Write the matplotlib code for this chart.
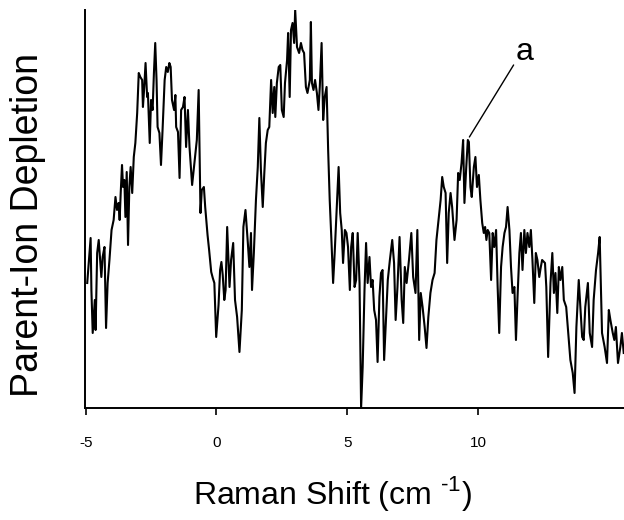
import matplotlib
matplotlib.use("Agg")

import matplotlib.pyplot as plt


###############################################################################
# Data (Raman shift in cm^-1, parent-ion depletion in arbitrary units)
###############################################################################

shift = [
    -4.94, -4.81, -4.78, -4.73, -4.65, -4.62, -4.56, -4.50, -4.43, -4.40,
    -4.35, -4.28, -4.22, -4.16, -4.09, -4.01, -3.93, -3.86, -3.80, -3.74,
    -3.70, -3.66, -3.61, -3.57, -3.52, -3.48, -3.43, -3.38, -3.33, -3.28,
    -3.22, -3.16, -3.10, -3.03, -2.97, -2.91, -2.84, -2.81, -2.76, -2.71,
    -2.65, -2.62, -2.55, -2.50, -2.44, -2.39, -2.34, -2.29, -2.25, -2.18,
    -2.12, -2.06,
    -1.98, -1.92, -1.86, -1.80, -1.75, -1.70, -1.62, -1.57, -1.54, -1.47,
    -1.41, -1.35, -1.28, -1.22, -1.16, -1.09, -1.03, -0.93, -0.84, -0.75,
    -0.68, -0.61, -0.56, -0.48, -0.43, -0.34, -0.28, -0.20, -0.14, -0.08,
    -0.01, 0.08, 0.14, 0.19, 0.24, 0.30, 0.35, 0.41, 0.50, 0.56,
    0.64, 0.71, 0.79, 0.88, 0.97, 1.03, 1.11, 1.20, 1.26, 1.32,
    1.36, 1.43, 1.51, 1.58, 1.64, 1.70, 1.77, 1.83, 1.89, 1.96,
    2.02, 2.09, 2.15, 2.21, 2.25, 2.31, 2.38, 2.44, 2.50, 2.57,
    2.62, 2.70, 2.74, 2.80, 2.85, 2.91, 2.97, 3.01, 3.08, 3.16,
    3.23, 3.29, 3.35, 3.42, 3.48, 3.57, 3.61, 3.65, 3.71, 3.77,
    3.84, 3.90, 3.95, 4.02, 4.08, 4.14, 4.21, 4.27, 4.33, 4.40,
    4.46, 4.52, 4.59, 4.67, 4.73, 4.79, 4.84, 4.91, 4.97, 5.03,
    5.10,
    5.15, 5.21, 5.28, 5.34, 5.40, 5.47, 5.53, 5.59, 5.66, 5.72,
    5.78, 5.85, 5.91, 5.97, 6.03, 6.10, 6.16, 6.23, 6.29, 6.35,
    6.41, 6.48, 6.55, 6.63, 6.72, 6.79, 6.85, 6.92, 7.00, 7.08,
    7.14, 7.20, 7.27, 7.36, 7.45, 7.52, 7.61, 7.68, 7.75, 7.81,
    7.88, 7.96, 8.03, 8.10, 8.18, 8.26, 8.34, 8.41, 8.50, 8.57,
    8.63, 8.69, 8.76, 8.82, 8.88, 8.95, 9.01, 9.10, 9.18, 9.24,
    9.30, 9.37, 9.43, 9.48,
    9.55, 9.61, 9.65, 9.71, 9.76, 9.84, 9.90, 9.96, 10.03, 10.09,
    10.16, 10.22, 10.27, 10.32, 10.37, 10.43, 10.50, 10.56, 10.62, 10.69,
    10.75, 10.81, 10.88, 10.94, 11.01, 11.07, 11.13, 11.20, 11.26, 11.32,
    11.39, 11.45, 11.51, 11.58, 11.64, 11.70, 11.77, 11.83, 11.89, 11.96,
    12.02, 12.08, 12.15, 12.21, 12.27, 12.34, 12.40,
    12.45, 12.56, 12.61, 12.68, 12.77, 12.84, 12.90, 12.96, 13.03, 13.09,
    13.15, 13.22, 13.28, 13.37, 13.45, 13.53, 13.62, 13.69, 13.76, 13.85,
    13.91, 13.98, 14.04, 14.10, 14.20, 14.27, 14.36, 14.42, 14.51, 14.59,
    14.65, 14.74, 14.84, 14.93, 15.00, 15.06, 15.15, 15.21, 15.27, 15.35,
    15.44, 15.50, 15.57,
]

depletion = [
    125, 170, 118, 75, 108, 78, 155, 168, 141, 131,
    151, 161, 80, 125, 148, 178, 188, 211, 198, 205,
    188, 215, 243, 221, 228, 191, 236, 163, 221, 241,
    215, 251, 265, 295, 335, 331, 328, 301, 321, 345,
    311, 315, 265, 308, 298, 335, 365, 328, 281, 275,
    243, 278,
    328, 341, 336, 345, 341, 308, 298, 313, 281, 276,
    230, 298, 301, 311, 261, 298, 261, 223, 245, 268,
    318, 195, 218, 221, 201, 173, 158, 136, 130, 125,
    71, 103, 138, 146, 133, 108, 118, 181, 121, 148,
    165, 108, 91, 56, 98, 181, 198, 165, 141, 175,
    118, 155, 208, 241, 290, 238, 201, 235, 265, 278,
    281, 328, 295, 321, 291, 325, 341, 343, 298, 291,
    325, 348, 375, 311, 378, 385, 365, 398, 361, 355,
    365, 358, 355, 321, 315, 328, 386, 325, 318, 328,
    315, 298, 321, 365, 288, 311, 321, 258, 208, 165,
    125, 155, 195, 241, 195, 178, 145, 178, 175, 161,
    118,
    161, 175, 121, 128, 175, 125, 0, 41, 118, 165,
    125, 151, 121, 128, 98, 88, 46, 111, 135, 138,
    48, 88, 128, 148, 168, 145, 88, 121, 171, 108,
    85, 141, 125, 148, 175, 131, 115, 178, 68, 115,
    101, 81, 60, 91, 115, 128, 135, 168, 191, 208,
    231, 221, 215, 145, 195, 215, 201, 168, 188, 235,
    228, 245, 268, 205,
    241, 268, 266, 221, 211, 241, 251, 221, 233, 208,
    185, 175, 181, 168, 178, 175, 128, 175, 161, 178,
    121, 75, 141, 161, 175, 181, 201, 178, 141, 115,
    121, 68, 111, 155, 175, 138, 178, 155, 175, 161,
    178, 148, 105, 155, 148, 131, 141,
    148, 145, 121, 51, 125, 155, 115, 135, 95, 141,
    128, 141, 108, 101, 75, 48, 35, 15, 81, 128,
    101, 71, 68, 101, 125, 75, 61, 108, 138, 155,
    171, 75, 61, 45, 98, 88, 75, 68, 81, 45,
    61, 75, 55,
]

x_ticks = [-5, 0, 5, 10]

peak_label = "a"
peak_point = (9.67, 271)
peak_line_end = (11.36, 343)
peak_text_pos = (11.77, 356)


###############################################################################
# Figure
###############################################################################

plt.rcParams["font.family"] = ["Liberation Sans", "DejaVu Sans"]
plt.rcParams["mathtext.fontset"] = "custom"
plt.rcParams["mathtext.rm"] = "Liberation Sans"
plt.rcParams["axes.unicode_minus"] = False

fig = plt.figure(figsize=(6.24, 5.2), dpi=100)

ax = fig.add_axes([0.136, 0.2154, 0.864, 0.7654])

ax.plot(shift, depletion, color="black", linewidth=1.5)

ax.set_xlim(-5.03, 15.58)
ax.set_ylim(0, 398)

ax.set_xticks(x_ticks)
ax.set_xticklabels([str(t) for t in x_ticks])
ax.set_yticks([])

ax.spines["top"].set_visible(False)
ax.spines["right"].set_visible(False)
ax.spines["left"].set_linewidth(1.4)
ax.spines["bottom"].set_linewidth(1.4)

ax.tick_params(axis="x", direction="out", length=5, width=1.2,
               pad=15, labelsize=11)

ax.set_xlabel("Raman Shift (cm $^{\\text{-1}}$)", fontsize=23)
ax.xaxis.set_label_coords(0.46, -0.165)

ax.set_ylabel("Parent-Ion Depletion", fontsize=27)
ax.yaxis.set_label_coords(-0.072, 0.46)

# peak marker
ax.annotate("", xy=peak_point, xytext=peak_line_end,
            arrowprops=dict(arrowstyle="-", color="black", linewidth=1.0,
                            shrinkA=0, shrinkB=0))
ax.text(peak_text_pos[0], peak_text_pos[1], peak_label, fontsize=23,
        ha="center", va="center")

fig.savefig("out.png", dpi=100)
